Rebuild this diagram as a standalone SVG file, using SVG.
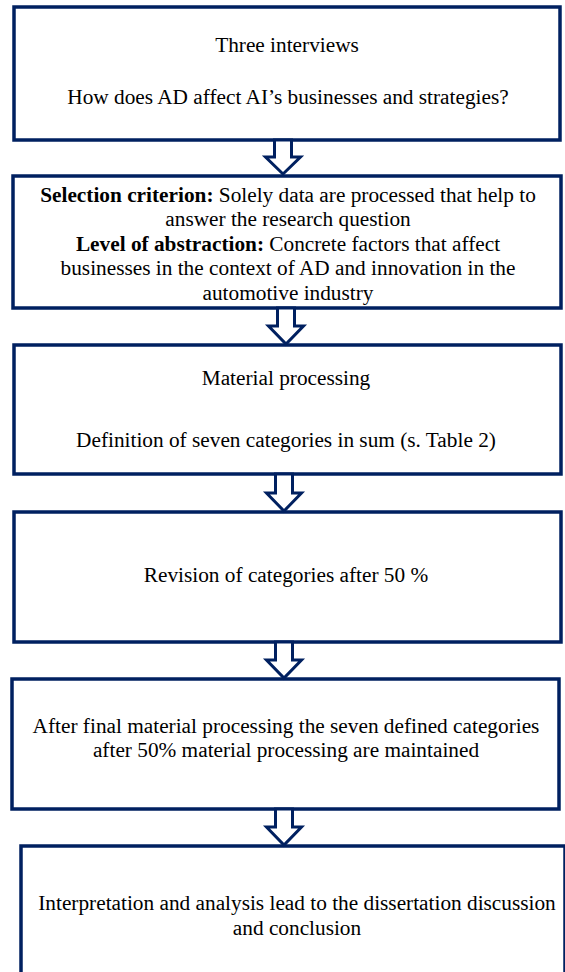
<svg xmlns="http://www.w3.org/2000/svg" width="565" height="972" viewBox="0 0 565 972">
<style>
.box{fill:#fff;stroke:#002060;stroke-width:3.5}
.arr{fill:#fff;stroke:#002060;stroke-width:3;stroke-linejoin:miter}
.t{font-family:'Liberation Serif','Tinos','Times New Roman','DejaVu Serif',serif;font-size:21.3px;fill:#000;text-anchor:middle}
.b{font-weight:bold}
</style>
<rect width="565" height="972" fill="#fff"/>
<g id="n1"><rect class="box" x="14" y="7" width="546" height="133"/>
<text class="t" x="287" y="52">Three interviews</text>
<text class="t" x="288" y="104">How does AD affect AI’s businesses and strategies?</text></g>
<g id="n2"><rect class="box" x="13" y="176" width="548" height="132"/>
<text class="t" x="288" y="202"><tspan class="b">Selection criterion:</tspan> Solely data are processed that help to</text>
<text class="t" x="288" y="226">answer the research question</text>
<text class="t" x="288" y="251"><tspan class="b">Level of abstraction:</tspan> Concrete factors that affect</text>
<text class="t" x="288" y="275">businesses in the context of AD and innovation in the</text>
<text class="t" x="288" y="300">automotive industry</text></g>
<g id="n3"><rect class="box" x="14" y="345" width="547" height="129"/>
<text class="t" x="286" y="385">Material processing</text>
<text class="t" x="286" y="447">Definition of seven categories in sum (s. Table 2)</text></g>
<g id="n4"><rect class="box" x="14" y="512" width="547" height="130"/>
<text class="t" x="286" y="582">Revision of categories after 50 %</text></g>
<g id="n5"><rect class="box" x="12" y="679" width="547" height="130"/>
<text class="t" x="286" y="733">After final material processing the seven defined categories</text>
<text class="t" x="286" y="757">after 50% material processing are maintained</text></g>
<g id="n6"><rect class="box" x="21" y="846" width="544" height="140"/>
<text class="t" x="297" y="910">Interpretation and analysis lead to the dissertation discussion</text>
<text class="t" x="297" y="935">and conclusion</text></g>
<g id="connectors">
<polygon class="arr" points="274.5,140 291.5,140 291.5,157 300.5,157 283,174 265.5,157 274.5,157"/>
<polygon class="arr" points="277.5,308 294.5,308 294.5,326 303.5,326 286,344 268.5,326 277.5,326"/>
<polygon class="arr" points="275.5,474 292.5,474 292.5,493 301.5,493 284,511 266.5,493 275.5,493"/>
<polygon class="arr" points="275.5,642 292.5,642 292.5,660 301.5,660 284,678 266.5,660 275.5,660"/>
<polygon class="arr" points="275.5,809 292.5,809 292.5,827 301.5,827 284,845 266.5,827 275.5,827"/>
</g>
</svg>
